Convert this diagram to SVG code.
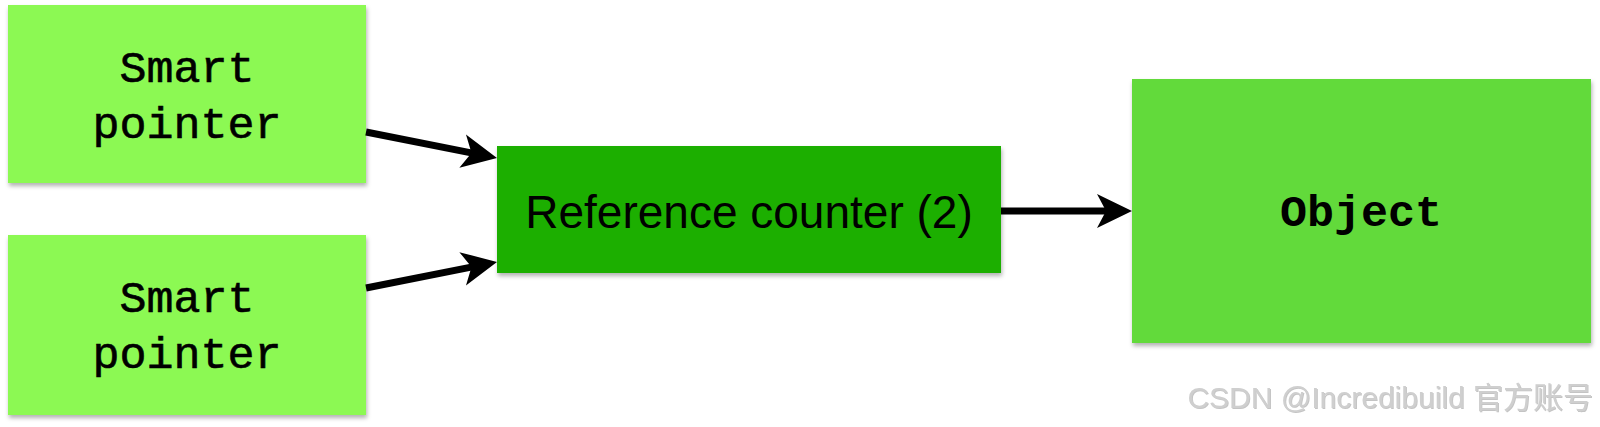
<svg xmlns="http://www.w3.org/2000/svg" width="1600" height="427" viewBox="0 0 1600 427">
<defs>
<filter id="sh" x="-5%" y="-5%" width="115%" height="120%">
<feDropShadow dx="1" dy="3" stdDeviation="2" flood-color="#000" flood-opacity="0.3"/>
</filter>
<marker id="ah" markerUnits="userSpaceOnUse" orient="auto" refX="0" refY="0" markerWidth="40" markerHeight="40" overflow="visible">
<path d="M16,0 L-19,-17 L-10,0 L-19,17 Z" fill="#000"/>
</marker>
<filter id="wm" x="-5%" y="-20%" width="110%" height="150%">
<feDropShadow dx="1" dy="1" stdDeviation="0.6" flood-color="#888" flood-opacity="0.5"/>
</filter>
</defs>
<style>
.mono{font-family:"Liberation Mono","Courier New",monospace;font-size:45px;fill:#000;text-anchor:middle}
.thin{stroke:#000;stroke-width:0.6}
.sans{font-family:"Liberation Sans",Arial,sans-serif;font-size:46px;fill:#000;text-anchor:middle}
.conn{stroke:#000;stroke-width:7;fill:none;marker-end:url(#ah)}
</style>
<rect width="1600" height="427" fill="#fff"/>
<g id="sp1">
<rect x="8" y="5" width="358" height="178" fill="#8CF953" filter="url(#sh)"/>
<text class="mono thin" x="187" y="82">Smart</text>
<text class="mono thin" x="187" y="138">pointer</text>
</g>
<g id="sp2">
<rect x="8" y="235" width="358" height="180" fill="#8CF953" filter="url(#sh)"/>
<text class="mono thin" x="187" y="312">Smart</text>
<text class="mono thin" x="187" y="368">pointer</text>
</g>
<g id="rc">
<rect x="497" y="146" width="504" height="127" fill="#1FAF04" filter="url(#sh)"/>
<text class="sans" x="749" y="228">Reference counter (2)</text>
</g>
<g id="obj">
<rect x="1132" y="79" width="459" height="264" fill="#62DA3A" filter="url(#sh)"/>
<text class="mono" x="1361" y="226" font-weight="bold">Object</text>
</g>
<g id="connectors">
<path class="conn" d="M366,132 L481.3,154.9"/>
<path class="conn" d="M366,288 L481.3,265.1"/>
<path class="conn" d="M1001,211 L1116,211"/>
</g>
<text x="1593" y="408" text-anchor="end" font-family="'Liberation Sans','Noto Sans CJK SC',sans-serif" font-size="30" fill="#cfcfcf" filter="url(#wm)">CSDN @Incredibuild 官方账号</text>
</svg>
